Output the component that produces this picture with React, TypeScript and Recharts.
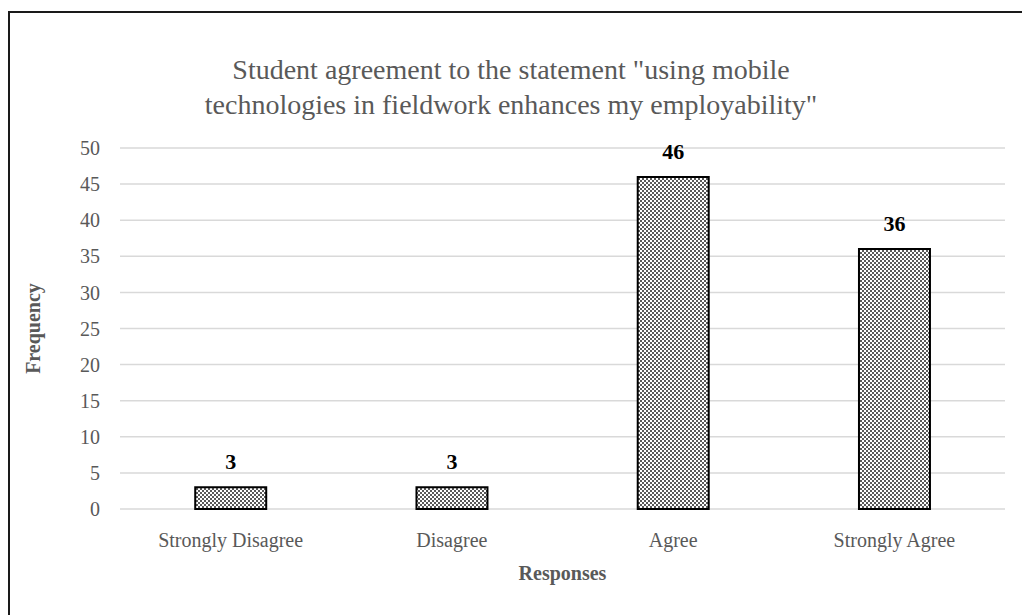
import { Bar, BarChart, CartesianGrid, LabelList, XAxis, YAxis } from "recharts";

const responses = ["Strongly Disagree", "Disagree", "Agree", "Strongly Agree"];
const frequency = [3, 3, 46, 36];
const yTicks = [0, 5, 10, 15, 20, 25, 30, 35, 40, 45, 50];

const data = responses.map((r, i) => ({ response: r, frequency: frequency[i] }));

const FONT = "'Liberation Serif', 'DejaVu Serif', serif";
const GREY = "#595959";

export default function App() {
  return (
    <div
      style={{
        position: "absolute",
        left: 0,
        top: 0,
        width: 1022,
        height: 615,
        overflow: "hidden",
        background: "#fff",
        fontFamily: FONT,
      }}
    >
      <div
        style={{
          position: "absolute",
          left: 8,
          top: 11,
          width: 1040,
          height: 640,
          border: "2px solid #1a1a1a",
        }}
      />
      <div
        style={{
          position: "absolute",
          left: 0,
          top: 52,
          width: 1022,
          textAlign: "center",
          fontSize: 28,
          lineHeight: "35px",
          color: GREY,
        }}
      >
        Student agreement to the statement "using mobile
        <br />
        technologies in fieldwork enhances my employability"
      </div>
      <BarChart
        width={1022}
        height={615}
        data={data}
        margin={{ top: 148, right: 17, bottom: 0, left: 0 }}
        barCategoryGap="34%"
        style={{ position: "absolute", left: 0, top: 0 }}
      >
        <defs>
          <pattern id="checker" width="4" height="4" patternUnits="userSpaceOnUse">
            <rect width="4" height="4" fill="#ffffff" />
            <rect width="2" height="2" fill="#5a5a5a" />
            <rect x="2" y="2" width="2" height="2" fill="#5a5a5a" />
          </pattern>
        </defs>
        <CartesianGrid vertical={false} stroke="#d9d9d9" strokeWidth={1.5} />
        <XAxis
          dataKey="response"
          height={106}
          axisLine={false}
          tickLine={false}
          tickMargin={18}
          tick={{ fill: GREY, fontSize: 20, fontFamily: FONT }}
          label={{
            content: ({ viewBox }: any) => (
              <text
                x={viewBox.x + viewBox.width / 2}
                y={580}
                textAnchor="middle"
                fill={GREY}
                fontSize={20}
                fontWeight="bold"
                fontFamily={FONT}
              >
                Responses
              </text>
            ),
          }}
        />
        <YAxis
          width={120}
          domain={[0, 50]}
          ticks={yTicks}
          interval={0}
          axisLine={false}
          tickLine={false}
          tickMargin={14}
          tick={{ fill: GREY, fontSize: 20, fontFamily: FONT }}
          label={{
            content: ({ viewBox }: any) => {
              const cy = viewBox.y + viewBox.height / 2;
              return (
                <text
                  x={40}
                  y={cy}
                  transform={`rotate(-90 40 ${cy})`}
                  textAnchor="middle"
                  fill={GREY}
                  fontSize={20}
                  fontWeight="bold"
                  fontFamily={FONT}
                >
                  Frequency
                </text>
              );
            },
          }}
        />
        <Bar
          dataKey="frequency"
          fill="url(#checker)"
          stroke="#000"
          strokeWidth={2}
          isAnimationActive={false}
        >
          <LabelList
            dataKey="frequency"
            position="top"
            offset={18}
            style={{ fill: "#000", fontSize: 22, fontWeight: "bold", fontFamily: FONT }}
          />
        </Bar>
      </BarChart>
    </div>
  );
}
